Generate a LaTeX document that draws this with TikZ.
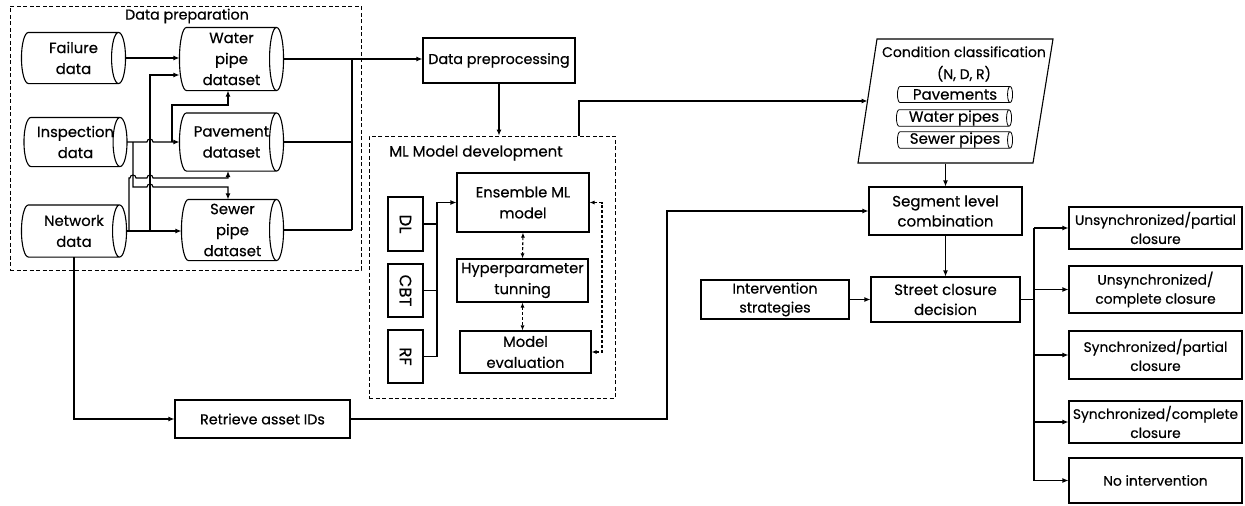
\documentclass[tikz,border=0pt]{standalone}
\usepackage{fontspec}
\usepackage{graphicx}
\setmainfont{Poppins}[FakeBold=0.45]
\usetikzlibrary{shapes.geometric,arrows.meta,calc}

% horizontal data-store outline around a named node: curved left end, full ellipse on the right
\newcommand\dbdraw[3][1.1pt]{%
  \draw[line width=#1] let \p1=(#2.north west), \p2=(#2.south east), \n1={(\y1-\y2)/2} in
    (\x1+#3,\y1) arc[start angle=90,end angle=270,x radius=#3,y radius={\n1*1pt}]
    -- (\x2-#3,\y2) arc[start angle=270,end angle=450,x radius=#3,y radius={\n1*1pt}] -- cycle
    (\x2-#3,\y1) arc[start angle=90,end angle=270,x radius=#3,y radius={\n1*1pt}];
}

\begin{document}
\begin{tikzpicture}[x=1pt,y=-1pt,
  line width=1.1pt,
  every node/.style={font=\fontsize{14.3}{19}\selectfont, align=center, inner sep=0pt},
  box/.style={draw, rectangle},
  outbox/.style={draw, rectangle, minimum width=173pt, font=\fontsize{13.8}{19}\selectfont},
  db/.style={font=\fontsize{14.8}{21}\selectfont},
  pill/.style={minimum width=114pt, minimum height=15pt, font=\fontsize{15}{19}\selectfont},
  grpbox/.style={draw, dash pattern=on 4pt off 2.5pt, line width=0.9pt},
  arr/.style={-{Latex[length=6pt,width=5pt]}},
  darr/.style={{Latex[length=5pt,width=4pt]}-{Latex[length=5pt,width=4pt]}, dash pattern=on 3pt off 2pt},
]
\useasboundingbox (0,0) rectangle (1245,506);

% ---------- data preparation group ----------
\node[grpbox, minimum width=351pt, minimum height=264pt] (prep) at (185.5,138) {};
\node (prepT) at (187,16) {Data preparation};

\node[db, minimum width=103pt, minimum height=50pt] (fail)  at (73.5,58)  {Failure\\data};
\node[db, minimum width=102pt, minimum height=48pt] (insp)  at (75.5,142) {Inspection\\data};
\node[db, minimum width=104pt, minimum height=51pt] (netw)  at (74,231)   {Network\\data};
\node[db, minimum width=103pt, minimum height=62pt] (water) at (231.5,59) {Water\\pipe\\dataset};
\node[db, minimum width=103pt, minimum height=57pt] (pave)  at (231.5,142) {Pavement\\dataset};
\node[db, minimum width=101pt, minimum height=60pt] (sewer) at (232.5,230) {Sewer\\pipe\\dataset};
\foreach \nm in {fail,insp,netw,water,pave,sewer} {\dbdraw{\nm}{7pt}}

% wiring columns and rows
\coordinate (xa) at (129,0);
\coordinate (xb) at (133,0);
\coordinate (xc) at (150,0);
\coordinate (xd) at (172,0);
\coordinate (xe) at (228,0);
\coordinate (ya) at (0,75);
\coordinate (yb) at (0,178);
\coordinate (yc) at (0,187);
\coordinate (yd) at (0,105);
\coordinate (bus) at (352,0);

\draw[arr] (fail.east) -- (fail.east -| water.west);
\draw[arr] (insp.east) -- (147,142) arc[start angle=180,end angle=360,radius=3] -- (insp.east -| pave.west);
\draw[arr] (netw.east) -- (netw.east -| sewer.west);
% network -> water pipe
\draw[arr] (xc |- netw.east) -- (xc |- ya) -- (ya -| water.west);
% network -> pavement
\draw[arr] (xa |- netw.east) -- (xa |- yb) -- (130,178) arc[start angle=180,end angle=360,radius=3]
  -- (147,178) arc[start angle=180,end angle=360,radius=3] -- (xe |- yb) -- (xe |- pave.south);
% inspection -> sewer pipe
\draw[arr] (xb |- insp.east) -- (xb |- yc) -- (147,187) arc[start angle=180,end angle=360,radius=3]
  -- (xe |- yc) -- (xe |- sewer.north);
% inspection -> water pipe
\draw[arr] (xd |- insp.east) -- (xd |- yd) -- (xe |- yd) -- (xe |- water.south);

% ---------- preprocessing ----------
\node[box, minimum width=152pt, minimum height=45pt] (dp) at (499,60.5) {Data preprocessing};
\draw (water.east) -- (bus |- water.east);
\draw (pave.east) -- (bus |- pave.east);
\draw (sewer.east) -- (bus |- sewer.east);
\draw (bus |- water.east) -- (bus |- sewer.east);
\draw[arr] (bus |- water.east) -- (water.east -| dp.west);

% ---------- ML model development group ----------
\node[grpbox, minimum width=246pt, minimum height=262pt] (ml) at (492,267) {};
\node[font=\fontsize{15}{19}\selectfont] (mlT) at (476,153) {ML Model development};
\draw[arr] (dp.south) -- (dp.south |- ml.north);

\node[box, minimum width=35pt, minimum height=54pt, font=\fontsize{16.5}{19}\selectfont] (dl)  at (405.5,224)   {\rotatebox{-90}{DL}};
\node[box, minimum width=35pt, minimum height=53pt, font=\fontsize{16.5}{19}\selectfont] (cbt) at (405.5,290.5) {\rotatebox{-90}{CBT}};
\node[box, minimum width=35pt, minimum height=53pt, font=\fontsize{16.5}{19}\selectfont] (rf)  at (405.5,356.5) {\rotatebox{-90}{RF}};

\node[box, minimum width=132pt, minimum height=59pt, font=\fontsize{14.7}{21}\selectfont] (ens)  at (523,202.5) {Ensemble ML\\model};
\node[box, minimum width=131pt, minimum height=43pt, font=\fontsize{14.7}{21}\selectfont] (hyp)  at (522.5,280.5) {Hyperparameter\\tunning};
\node[box, minimum width=131pt, minimum height=42pt, font=\fontsize{14.7}{21}\selectfont] (eval) at (525.5,352) {Model\\evaluation};

\coordinate (xj) at (437,0);
\draw (dl.east) -- (xj |- dl.east);
\draw (cbt.east) -- (xj |- cbt.east);
\draw (rf.east) -- (xj |- rf.east);
\draw[arr] (xj |- rf.east) -- (xj |- ens.west) -- (ens.west);

\draw[darr] (ens.south) -- (hyp.north);
\draw[darr] (hyp.south) -- (hyp.south |- eval.north);
\coordinate (xf) at (602,0);
\draw[darr] (eval.east) -- (xf |- eval.east) -- (xf |- ens.east) -- (ens.east);

% ---------- condition classification ----------
\draw (877,39) -- (1053,39) -- (1033,163) -- (858,163) -- cycle;
\node[minimum width=195pt, minimum height=124pt] (cc) at (955.5,101) {};
\node[font=\fontsize{14}{22}\selectfont] (ccT) at (964,64) {Condition classification\\(N, D, R)};
\node[pill] (pv) at (955,94.5) {Pavements};
\node[pill] (wp) at (954,118)  {Water pipes};
\node[pill] (sp) at (955,140)  {Sewer pipes};
\foreach \nm in {pv,wp,sp} {\dbdraw[0.8pt]{\nm}{2.5pt}}
\coordinate (ccW) at (867.5,101);
\coordinate (mlo) at (579,101);
\draw[arr] (mlo |- ml.north) -- (mlo) -- (ccW);

% ---------- segment / street closure ----------
\node[box, minimum width=153pt, minimum height=48pt, font=\fontsize{15}{20}\selectfont] (seg) at (945.5,211) {Segment level\\combination};
\draw[arr] (seg.north |- cc.south) -- (seg.north);

\node[box, minimum width=175pt, minimum height=38pt] (rai) at (262.5,419) {Retrieve asset IDs};
\draw[arr] (netw.south) -- (netw.south |- rai.west) -- (rai.west);
\coordinate (xr) at (667,0);
\draw[arr] (rai.east) -- (xr |- rai.east) -- (xr |- seg.west) -- (seg.west);

\node[box, minimum width=148pt, minimum height=39pt] (strat) at (775,299.5) {Intervention\\strategies};
\node[box, minimum width=149pt, minimum height=45pt, font=\fontsize{15}{20}\selectfont] (scd) at (945.5,299.5) {Street closure\\decision};
\draw[arr] (seg.south) -- (scd.north);
\draw[arr] (strat.east) -- (scd.west);

% ---------- closure outcomes ----------
\node[outbox, minimum height=42pt] (o1) at (1155.5,228)   {Unsynchronized/partial\\closure};
\node[outbox, minimum height=47pt] (o2) at (1155.5,289.5) {Unsynchronized/\\complete closure};
\node[outbox, minimum height=48pt] (o3) at (1155.5,355)   {Synchronized/partial\\closure};
\node[outbox, minimum height=42pt] (o4) at (1155.5,422)   {Synchronized/complete\\closure};
\node[outbox, minimum height=45pt] (o5) at (1155.5,480.5) {No intervention};

\coordinate (tr) at (1034,0);
\draw (scd.east) -- (tr |- scd.east);
\draw (tr |- o1.west) -- (tr |- o5.west);
\foreach \o in {o1,o2,o3,o4,o5}
  \draw[arr] (tr |- \o.west) -- (\o.west);

\end{tikzpicture}
\end{document}
